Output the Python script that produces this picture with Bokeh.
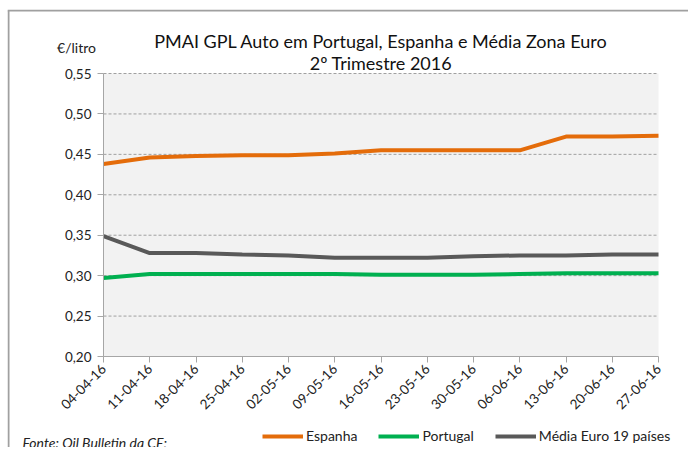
from bokeh.plotting import figure
from bokeh.models import (Range1d, FixedTicker, CustomJSTickFormatter, Label,
                          Legend, LegendItem, ColumnDataSource)
from bokeh.embed import file_html
from bokeh.resources import INLINE
import math

# ---- data ----
dates = ["04-04-16", "11-04-16", "18-04-16", "25-04-16", "02-05-16", "09-05-16",
         "16-05-16", "23-05-16", "30-05-16", "06-06-16", "13-06-16", "20-06-16",
         "27-06-16"]
espanha = [0.438, 0.446, 0.448, 0.449, 0.449, 0.451, 0.455, 0.455, 0.455, 0.455,
           0.472, 0.472, 0.473]
portugal = [0.297, 0.302, 0.302, 0.302, 0.302, 0.302, 0.301, 0.301, 0.301, 0.302,
            0.303, 0.303, 0.303]
media = [0.349, 0.328, 0.328, 0.326, 0.325, 0.322, 0.322, 0.322, 0.324, 0.325,
         0.325, 0.326, 0.326]
y_ticks = [0.20, 0.25, 0.30, 0.35, 0.40, 0.45, 0.50, 0.55]
series_names = ["Espanha", "Portugal", "Média Euro 19 países"]
series_colors = ["#E46C0A", "#00B050", "#595959"]
title_lines = ["PMAI GPL Auto em Portugal, Espanha e Média Zona Euro", "2º Trimestre 2016"]
unit_label = "€/litro"
source_label = "Fonte: Oil Bulletin da CE;"

# ---- layout (page pixels) ----
CX0, CY0, W, H = 7, 9, 681, 438           # canvas origin and size on the page
PL, PR, PT, PB = 103, 658, 73, 356         # plot area edges on the page
n = len(dates)
ymin, ymax = y_ticks[0], y_ticks[-1]
sx = (PR - PL) / (n - 1)
sy = (PB - PT) / (ymax - ymin)


def px_x(px):
    return (px - PL) / sx


def px_y(py):
    return ymin + (PB - py) / sy


idx = list(range(n))
src = ColumnDataSource(dict(x=idx, esp=espanha, por=portugal, med=media))

FONT = "Lato"
TXT = "#222222"

p = figure(width=W, height=H, output_backend="svg", toolbar_location=None,
           x_range=Range1d(px_x(CX0), px_x(CX0 + W)),
           y_range=Range1d(px_y(CY0 + H), px_y(CY0)),
           min_border=0, min_border_left=0, min_border_right=0,
           min_border_top=0, min_border_bottom=0,
           background_fill_color="white", border_fill_color="white",
           outline_line_color=None,
           styles={"margin-left": "7px", "margin-top": "9px"})
p.title.visible = False
p.right = []
p.above = []

# chart-area border (left and top edges of the canvas)
p.line(x=[px_x(CX0 + 1)] * 2, y=[px_y(CY0 + H), px_y(CY0 + 1)], line_color="#A0A0A0", line_width=2)
p.line(x=[px_x(CX0), px_x(CX0 + W)], y=[px_y(CY0 + 1)] * 2, line_color="#A0A0A0", line_width=2)

# plot area background and dashed gridlines
p.quad(left=[0], right=[n - 1], bottom=[ymin], top=[ymax], fill_color="#F2F2F2",
       line_color=None)
p.segment(x0=[0] * len(y_ticks), x1=[n - 1] * len(y_ticks), y0=y_ticks, y1=y_ticks,
          line_color="#A0A0A0", line_dash="3 2", line_width=1)

renderers = []
for col, color in zip(["esp", "por", "med"], series_colors):
    r = p.line("x", col, source=src, line_color=color, line_width=4)
    renderers.append(r)

# axes placed at the plot-area edges
p.xaxis.fixed_location = ymin
p.xaxis.bounds = (0, n - 1)
p.yaxis.fixed_location = 0
p.yaxis.bounds = (ymin, ymax)
p.xaxis.ticker = FixedTicker(ticks=idx)
p.xaxis.major_label_overrides = {i: d for i, d in zip(idx, dates)}
p.xaxis.major_label_orientation = math.pi / 4
p.yaxis.ticker = FixedTicker(ticks=y_ticks)
p.yaxis.formatter = CustomJSTickFormatter(code="return tick.toFixed(2).replace('.', ',');")
for ax in (p.xaxis, p.yaxis):
    ax.axis_line_color = "#A6A6A6"
    ax.major_tick_line_color = "#A6A6A6"
    ax.major_tick_out = 6
    ax.major_tick_in = 0
    ax.minor_tick_line_color = None
    ax.major_label_text_font = FONT
    ax.major_label_text_color = TXT
    ax.major_label_text_font_size = "13.5px"
p.xaxis.major_label_standoff = 4
p.yaxis.major_label_standoff = 6

p.xgrid.visible = False
p.ygrid.visible = False

# title & labels
cx = (n - 1) / 2
p.add_layout(Label(x=cx, y=px_y(40), text=title_lines[0], text_align="center",
                   text_baseline="middle", text_font=FONT, text_font_size="18px",
                   text_color="#111111"))
p.add_layout(Label(x=cx, y=px_y(62), text=title_lines[1], text_align="center",
                   text_baseline="middle", text_font=FONT, text_font_size="18px",
                   text_color="#111111"))
p.add_layout(Label(x=px_x(76), y=px_y(47), text=unit_label, text_align="center",
                   text_baseline="middle", text_font=FONT, text_font_size="14px",
                   text_color=TXT))
p.add_layout(Label(x=px_x(22), y=px_y(442), text=source_label, text_align="left",
                   text_baseline="middle", text_font=FONT, text_font_size="14px",
                   text_font_style="italic", text_color=TXT))

legend = Legend(items=[LegendItem(label=nm, renderers=[r]) for nm, r in zip(series_names, renderers)],
                orientation="horizontal", location=(262 - CX0, CY0 + H - 444),
                glyph_width=41, glyph_height=14, label_height=14, label_standoff=3, spacing=21,
                padding=0, margin=0, border_line_color=None, background_fill_alpha=0,
                label_text_font=FONT, label_text_font_size="14px", label_text_color=TXT)
p.add_layout(legend, "center")

open("out.html", "w").write(file_html(p, INLINE))
